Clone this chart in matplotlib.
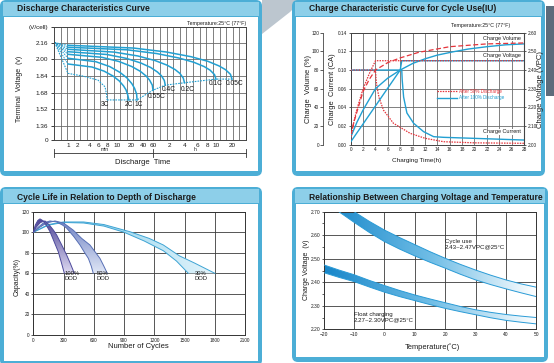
import numpy as np
import matplotlib
matplotlib.use("Agg")
import matplotlib.pyplot as plt
from matplotlib.patches import FancyBboxPatch, Rectangle, Polygon
from matplotlib.colors import LinearSegmentedColormap
from matplotlib.lines import Line2D
from matplotlib.transforms import blended_transform_factory

plt.rcParams["font.family"] = ["Liberation Sans", "DejaVu Sans"]

W, H = 554, 363
FRAME, TITLE_BG = "#4caed6", "#8dcfe9"
CURVE, RED = "#22a0d2", "#e5343b"
GRID, INK = "#6a6a6a", "#1b1b1b"

# ---------------- data ----------------
# Discharge curves: time (minutes) vs terminal voltage (V/cell)
dis_ticks = [1, 2, 4, 6, 8, 10, 20, 40, 60, 120, 240, 360, 480, 600, 1200]
dis_tick_labels = ["1", "2", "4", "6", "8", "10", "20", "40", "60",
                   "2", "4", "6", "8", "10", "20"]
volt_ticks = [0, 1.36, 1.52, 1.68, 1.84, 2.00, 2.16, 2.31]
volt_tick_labels = ["0", "1.36", "1.52", "1.68", "1.84", "2.00", "2.16", "(V/cell)"]

rates = ["0.05C", "0.1C", "0.2C", "0.4C", "0.55C", "1C", "2C"]
t_005 = [1, 23, 107, 294, 490, 680, 903, 1120, 1200]
v_005 = [2.135, 2.108, 2.070, 2.025, 1.981, 1.937, 1.901, 1.856, 1.81]
t_01 = [1, 16.6, 70.8, 188, 322, 441, 518, 578, 600]
v_01 = [2.116, 2.091, 2.055, 2.012, 1.971, 1.930, 1.896, 1.853, 1.81]
t_02 = [1, 9.4, 29.3, 66.5, 110, 158, 195, 227, 240]
v_02 = [2.096, 2.069, 2.032, 1.987, 1.944, 1.901, 1.865, 1.820, 1.775]
t_04 = [1, 8, 15.9, 34.8, 54.5, 72.8, 86.5, 98, 102]
v_04 = [2.073, 2.046, 2.009, 1.964, 1.921, 1.878, 1.842, 1.797, 1.752]
t_055 = [1, 6.8, 11, 20.8, 33.4, 44.9, 51.9, 58.3, 60]
v_055 = [2.048, 2.019, 1.979, 1.931, 1.885, 1.839, 1.800, 1.752, 1.704]
t_1c = [1, 5.4, 8.5, 11.6, 16.4, 20.9, 24.3, 27.3, 28]
v_1c = [2.010, 1.977, 1.930, 1.874, 1.821, 1.767, 1.722, 1.666, 1.61]
t_2c = [1, 4.5, 7.3, 9.2, 11.2, 13.8, 15.6, 17, 18]
v_2c = [1.955, 1.926, 1.886, 1.838, 1.792, 1.745, 1.707, 1.659, 1.61]
t_3c = [1, 2.8, 6, 7.5, 7.9, 8]
v_3c = [1.865, 1.839, 1.80, 1.736, 1.66, 1.61]
t_cut = [8, 18, 28, 60, 102, 240, 600, 1200]
v_cut = [1.61, 1.61, 1.61, 1.704, 1.752, 1.775, 1.81, 1.81]
t_start, v_start = 0.27, 2.16

# Charge characteristics: hours vs current (CA), volume (%), voltage (V/cell)
cur_ticks = [0, 0.02, 0.04, 0.06, 0.10, 0.12, 0.14]
cur_tick_labels = ["0.00", "0.02", "0.04", "0.06", "0.10", "0.12", "0.14"]
t50_cur = [0, 4, 4.1, 4.24, 4.6, 5.3, 6.9, 9.6, 12, 15, 20, 28]
i50_cur = [0.10, 0.10, 0.08, 0.064, 0.05, 0.037, 0.023, 0.0122, 0.0069,
           0.0032, 0.002, 0.0015]
t100_cur = [0, 8.25, 8.32, 8.55, 9.08, 10.16, 11.77, 13.4, 15, 20, 28]
i100_cur = [0.10, 0.10, 0.079, 0.051, 0.034, 0.023, 0.014, 0.0086, 0.0079,
            0.0068, 0.005]
t50_vol = [0, 0.5, 1, 2, 3, 4, 6, 8, 11, 16, 22, 28]
vol50 = [10, 24, 35, 57, 70, 80, 88, 93, 99, 105, 108, 109]
t100_vol = [0, 8, 10, 12, 14, 16.6, 19, 22, 25, 28]
vol100 = [3, 80, 87, 92, 96, 99.6, 102.5, 105, 107, 108]
t50_u = [0, 0.5, 1, 2, 3, 4, 28]
u50 = [2.03, 2.12, 2.19, 2.30, 2.38, 2.45, 2.45]
t100_u = [0, 1, 2, 4, 6, 8, 8.25, 28]
u100 = [2.04, 2.12, 2.186, 2.30, 2.357, 2.40, 2.45, 2.45]

# Cycle life: cycles vs capacity (%), inner / outer edge of each band
c100_in_x = [0, 20, 45, 66, 100, 140, 166, 210, 248, 280, 308]
c100_in_y = [100, 107, 111.5, 113, 111, 105, 100.5, 90, 81, 70, 60]
c100_out_x = [0, 30, 70, 116, 160, 200, 232, 280, 331, 370, 407]
c100_out_y = [100, 105, 109.5, 111, 107, 102, 97.3, 88, 77.8, 69, 60]
c50_in_x = [0, 50, 100, 166, 230, 290, 331, 400, 463, 510, 546, 575, 595]
c50_in_y = [100, 105, 109, 111, 110, 107, 104, 96, 87.6, 80, 74.6, 67, 60]
c50_out_x = [0, 60, 130, 215, 300, 397, 480, 562, 620, 661, 700, 734]
c50_out_y = [100, 104.5, 109, 111, 109, 102, 94, 87.6, 80, 74.6, 67, 60]
c30_in_x = [0, 150, 300, 500, 700, 900, 1100, 1290, 1420, 1538]
c30_in_y = [100, 107, 109.5, 109, 106, 100, 91.5, 82, 72, 60]
c30_out_x = [0, 150, 300, 500, 700, 959, 1150, 1290, 1450, 1600, 1802]
c30_out_y = [100, 107.5, 110, 110, 107.5, 100.5, 94, 87.6, 77, 70, 60]

# Charging voltage vs temperature (deg C)
temp_cyc = [-15, -10, -5, 0, 5, 10, 15, 20, 25, 30, 35, 40, 45, 50]
cyc_hi = [2.745, 2.700, 2.659, 2.622, 2.590, 2.560, 2.530, 2.502, 2.476,
          2.452, 2.430, 2.410, 2.393, 2.379]
cyc_lo = [2.700, 2.655, 2.612, 2.573, 2.541, 2.512, 2.485, 2.460, 2.434,
          2.410, 2.390, 2.372, 2.355, 2.339]
temp_flt = [-20, -15, -10, -5, 0, 5, 10, 15, 20, 25, 30, 35, 40, 45, 50]
flt_hi = [2.474, 2.452, 2.432, 2.408, 2.386, 2.365, 2.346, 2.329, 2.313,
          2.297, 2.283, 2.272, 2.263, 2.256, 2.250]
flt_lo = [2.441, 2.421, 2.403, 2.380, 2.358, 2.339, 2.322, 2.305, 2.289,
          2.275, 2.262, 2.249, 2.238, 2.230, 2.223]

# ---------------- helpers ----------------
fig = plt.figure(figsize=(W / 100, H / 100), dpi=100)


def axes_px(x0, y0, x1, y1):
    return fig.add_axes([x0 / W, 1 - y1 / H, (x1 - x0) / W, (y1 - y0) / H])


def ftext(x, y, s, **kw):
    fig.text(x / W, 1 - y / H, s, **kw)


def box_style(ax, gcol, lw=0.6):
    for sp in ax.spines.values():
        sp.set_color(gcol)
        sp.set_linewidth(lw)
    ax.set_axisbelow(True)


def band(ax, xa, ya, xb, yb, colors, horizontal, extent, edge):
    xs = np.concatenate([xa, xb[::-1]])
    ys = np.concatenate([ya, yb[::-1]])
    poly = Polygon(np.column_stack([xs, ys]), closed=True, fc="none", ec="none")
    ax.add_patch(poly)
    cmap = LinearSegmentedColormap.from_list("band", colors)
    g = np.linspace(0, 1, 256)
    img = g[None, :] if horizontal else g[:, None]
    im = ax.imshow(img, cmap=cmap, extent=extent, origin="lower",
                   aspect="auto", interpolation="bilinear", zorder=2)
    im.set_clip_path(poly)
    ax.plot(xa, ya, color=edge, lw=0.7, zorder=3)
    ax.plot(xb, yb, color=edge, lw=0.7, zorder=3)


# ---------------- background frames ----------------
bg = axes_px(0, 0, W, H)
bg.set_xlim(0, W)
bg.set_ylim(H, 0)
bg.axis("off")
bg.add_patch(Polygon([(262, 0), (302, 0), (290, 12), (262, 34)],
                     fc="#bcc6cf", ec="none"))
bg.add_patch(Rectangle((546, 6), 8, 90, fc="#5d6b7b", ec="none"))
for (x0, y0, x1, y1) in [(0, 0, 262, 176), (292, 0, 545, 176),
                         (0, 187, 262, 366), (292, 187, 548, 362)]:
    bg.add_patch(FancyBboxPatch((x0, y0), x1 - x0, y1 - y0,
                                boxstyle="round,pad=0,rounding_size=6",
                                fc=FRAME, ec="none"))
    bg.add_patch(Rectangle((x0 + 3, y0 + 2), x1 - x0 - 6, 14,
                           fc=TITLE_BG, ec="none"))
    bg.add_patch(Rectangle((x0 + 4, y0 + 17), x1 - x0 - 8, y1 - y0 - 22,
                           fc="white", ec="none"))

TKW = dict(fontsize=6.15, fontweight="bold", color=INK, va="center")
ftext(17, 8.5, "Discharge Characteristics Curve", **TKW)
ftext(309, 8.5, "Charge Characteristic Curve for Cycle Use(IU)", **TKW)
ftext(17, 197, "Cycle Life in Relation to Depth of Discharge", **TKW)
ftext(309, 197, "Relationship Between Charging Voltage and Temperature", **TKW)

# ---------------- panel 1: discharge ----------------
ax1 = axes_px(54, 27, 246, 140)
lt = np.log10([0.25] + dis_ticks + [2000])
ut = np.array([0, 2.11, 3.47, 5.36, 6.65, 8.01, 9.52, 11.63, 13.52, 14.95,
               17.37, 19.71, 21.68, 23.11, 24.47, 26.89, 29.0])


def fwd_t(t):
    return np.interp(np.log10(np.clip(t, 1e-3, None)), lt, ut)


def inv_t(u):
    return 10 ** np.interp(u, ut, lt)


lv = np.array([0, 1.36, 1.52, 1.68, 1.84, 2.00, 2.16, 2.32])
uv = np.array([0.16, 1, 2, 3, 4, 5, 6, 7])


def fwd_v(v):
    return np.interp(v, lv, uv)


def inv_v(u):
    return np.interp(u, uv, lv)


ax1.set_xscale("function", functions=(fwd_t, inv_t))
ax1.set_yscale("function", functions=(fwd_v, inv_v))
ax1.set_xlim(0.25, 2000)
ax1.set_ylim(0, 2.31)
box_style(ax1, "#444444", 0.7)
ax1.set_xticks(dis_ticks, dis_tick_labels)
ax1.set_xticks(inv_t(np.arange(1, 29)), minor=True)
ax1.set_yticks(volt_ticks, volt_tick_labels)
ax1.yaxis.set_minor_locator(matplotlib.ticker.NullLocator())
ax1.tick_params(axis="x", which="both", length=0, labelsize=4.6, pad=2,
                colors=INK)
ax1.tick_params(axis="y", length=2.5, width=0.6, labelsize=4.6, pad=1.5,
                colors=INK)
ax1.grid(True, axis="x", which="minor", color=GRID, lw=0.6)
ax1.grid(True, axis="y", which="major", color=GRID, lw=0.6)

curves = [(t_005, v_005), (t_01, v_01), (t_02, v_02), (t_04, v_04),
          (t_055, v_055), (t_1c, v_1c), (t_2c, v_2c)]
for (t, v) in curves:
    ax1.plot(t, v, color=CURVE, lw=1.1)
    ax1.plot([t_start, t[0]], [v_start, v[0]], color=CURVE, lw=0.7,
             ls=(0, (1.5, 1)))
ax1.plot([t_start] + t_3c, [v_start] + v_3c, color=CURVE, lw=0.8,
         ls=(0, (1.5, 1)))
ax1.plot(t_cut, v_cut, color=CURVE, lw=0.8, ls=(0, (1.5, 1)))

LBL = dict(fontsize=4.8, color=INK, ha="center", va="center")
for s, t, v in [("3C", 7.5, 1.571), ("2C", 18, 1.571), ("1C", 31, 1.571),
                ("0.55C", 71, 1.642), ("0.4C", 120, 1.712),
                ("0.2C", 264, 1.712), ("0.1C", 600, 1.77),
                ("0.05C", 1339, 1.77)]:
    ax1.text(t, v, s, **LBL)
ax1.text(1.0, 1.035, "Temperature:25\u00b0C (77\u00b0F)", transform=ax1.transAxes,
         fontsize=3.8, ha="right", va="center", color=INK)

tr = blended_transform_factory(ax1.transData, ax1.transAxes)
yb = -0.115
ax1.plot([0.25, 2000], [yb, yb], transform=tr, clip_on=False, color="#333333",
         lw=0.6)
for t in [0.25, 60, 2000]:
    ax1.plot([t, t], [yb - 0.035, yb + 0.035], transform=tr, clip_on=False,
             color="#333333", lw=0.6)
ax1.text(7.5, -0.085, "min", transform=tr, fontsize=3.6, ha="center",
         va="center", color=INK)
ax1.text(330, -0.085, "h", transform=tr, fontsize=3.6, ha="center",
         va="center", color=INK)
ftext(143, 163, "Discharge  Time", fontsize=5.5, ha="center", va="center",
      color=INK)
ftext(20, 89, "Terminal  Voltage  (v)", fontsize=5.0, rotation=90,
      ha="center", va="center", color=INK)

# ---------------- panel 2: charge characteristic ----------------
ax2 = axes_px(350.7, 32.7, 524, 144.7)
ci = np.array(cur_ticks)
cu = np.arange(7.0)


def fwd_i(i):
    return np.interp(i, ci, cu)


def inv_i(u):
    return np.interp(u, cu, ci)


ax2.set_yscale("function", functions=(fwd_i, inv_i))
ax2.set_xlim(0, 28)
ax2.set_ylim(0, 0.14)
box_style(ax2, "#444444", 0.7)
ax2.set_xticks(range(0, 29, 2))
ax2.set_yticks(cur_ticks, cur_tick_labels)
ax2.yaxis.set_minor_locator(matplotlib.ticker.NullLocator())
ax2.tick_params(axis="x", length=0, labelsize=3.4, pad=1.5, colors=INK)
ax2.tick_params(axis="y", length=1.5, width=0.5, labelsize=3.4, pad=1,
                colors=INK)
ax2.grid(True, color=GRID, lw=0.6)

axv = ax2.twinx()
axv.set_ylim(0, 120)
axv.set_yticks(range(0, 121, 20))
axv.yaxis.set_ticks_position("left")
axv.spines["left"].set_position(("outward", 19.7))
axv.spines["left"].set_color("#444444")
axv.spines["left"].set_linewidth(0.6)
for sp in ("right", "top", "bottom"):
    axv.spines[sp].set_visible(False)
axv.tick_params(axis="y", length=2, width=0.5, labelsize=3.4, pad=1,
                colors=INK)

axu = ax2.twinx()
axu.set_ylim(2.0, 2.6)
axu.set_yticks(np.round(np.arange(2.0, 2.61, 0.1), 2))
axu.set_yticklabels([f"{v:.2f}" for v in np.arange(2.0, 2.61, 0.1)])
for sp in ("left", "top", "bottom"):
    axu.spines[sp].set_visible(False)
axu.spines["right"].set_color("#444444")
axu.tick_params(axis="y", length=1.5, width=0.5, labelsize=3.4, pad=1,
                colors=INK)

DOT = (0, (1.2, 0.9))
ax2.plot(t100_cur, i100_cur, color=CURVE, lw=1.0, zorder=3)
ax2.plot(t50_cur, i50_cur, color=RED, lw=0.9, ls=DOT, zorder=4)
axv.plot(t100_vol, vol100, color=CURVE, lw=1.0)
axv.plot(t50_vol, vol50, color=RED, lw=0.9, ls=(0, (4, 2)))
axu.plot(t100_u, u100, color=CURVE, lw=1.0)
axu.plot(t50_u, u50, color=RED, lw=0.9, ls=DOT)

BB = dict(fc="white", ec="none", pad=0.3)
for s, y in [("Charge Volume", 0.95), ("Charge Voltage", 0.80),
             ("Charge Current", 0.116)]:
    axu.text(0.983, y, s, transform=axu.transAxes, fontsize=4.0, ha="right",
             va="center", color=INK, bbox=BB, zorder=10)
axu.text(0.918, 1.06, "Temperature:25\u00b0C (77\u00b0F)", transform=axu.transAxes,
         fontsize=3.8, ha="right", va="center", color=INK)
leg = axu.legend([Line2D([], [], color=RED, lw=0.9, ls=DOT),
                  Line2D([], [], color=CURVE, lw=1.0)],
                 ["After 50% Discharge", "After 100% Discharge"],
                 loc="upper left", bbox_to_anchor=(0.5, 0.5), frameon=False,
                 fontsize=3.3, handlelength=4.3, handletextpad=0.5,
                 labelspacing=0.35, borderpad=0, borderaxespad=0)
for txt, col in zip(leg.get_texts(), [RED, CURVE]):
    txt.set_color(col)

ftext(308.7, 89, "Charge  Volume (%)", fontsize=5.4, rotation=90,
      ha="center", va="center", color=INK)
ftext(332, 89, "Charge  Current (CA)", fontsize=5.4, rotation=90,
      ha="center", va="center", color=INK)
ftext(540, 89, "Charge Voltage (VPC)", fontsize=5.6, rotation=90,
      ha="center", va="center", color=INK)
ftext(417, 161, "Charging Time(h)", fontsize=4.6, ha="center", va="center",
      color=INK)

# ---------------- panel 3: cycle life ----------------
ax3 = axes_px(33.3, 211.7, 245, 335)
band(ax3, np.array(c30_in_x), np.array(c30_in_y), np.array(c30_out_x),
     np.array(c30_out_y), ["#6cc4e6", "#e8f6fc"], True, (0, 1850, 55, 115),
     "#3ea4d4")
band(ax3, np.array(c50_in_x), np.array(c50_in_y), np.array(c50_out_x),
     np.array(c50_out_y), ["#dfe6f6", "#6d80c2"], False, (0, 760, 60, 112),
     "#5870b6")
band(ax3, np.array(c100_in_x), np.array(c100_in_y), np.array(c100_out_x),
     np.array(c100_out_y), ["#ddd9f1", "#4d4496"], False, (0, 420, 60, 113),
     "#4d4a9c")
ax3.set_xlim(0, 2100)
ax3.set_ylim(0, 120)
box_style(ax3, "#333333", 0.7)
ax3.set_xticks(range(0, 2101, 300))
ax3.set_yticks(range(0, 121, 20))
ax3.tick_params(axis="x", length=0, labelsize=3.4, pad=2, colors=INK)
ax3.tick_params(axis="y", length=1.5, width=0.5, labelsize=3.4, pad=1,
                colors=INK)
ax3.grid(True, color="#3a3a3a", lw=0.6)
for s, x in [("100%\nDOD", 307), ("50%\nDOD", 629), ("30%\nDOD", 1604)]:
    ax3.text(x, 62, s, fontsize=4.2, ha="left", va="top", color=INK,
             linespacing=1.0)
ftext(138, 346.7, "Number of Cycles", fontsize=5.5, ha="center",
      va="center", color=INK)
ftext(17, 276.7, "Capacity(%)", fontsize=5.0, rotation=90, ha="center",
      va="center", color=INK)

# ---------------- panel 4: charging voltage vs temperature ----------------
ax4 = axes_px(323.7, 211.7, 536.3, 329.3)
band(ax4, np.array(temp_cyc), np.array(cyc_lo), np.array(temp_cyc),
     np.array(cyc_hi), ["#1786c9", "#6fbde6", "#ffffff"], True,
     (-20, 50, 2.2, 2.75), "#2a9bd6")
band(ax4, np.array(temp_flt), np.array(flt_lo), np.array(temp_flt),
     np.array(flt_hi), ["#1786c9", "#6fbde6", "#ffffff"], True,
     (-20, 50, 2.2, 2.75), "#2a9bd6")
ax4.set_xlim(-20, 50)
ax4.set_ylim(2.2, 2.7)
box_style(ax4, "#333333", 0.7)
ax4.set_xticks(range(-20, 51, 10))
ax4.set_yticks(np.round(np.arange(2.2, 2.71, 0.1), 2))
ax4.set_yticklabels([f"{v:.2f}" for v in np.arange(2.2, 2.71, 0.1)])
ax4.set_yticks(np.round(np.arange(2.25, 2.7, 0.1), 2), minor=True)
ax4.tick_params(axis="x", length=0, labelsize=3.5, pad=2, colors=INK)
ax4.tick_params(axis="y", which="both", length=1.5, width=0.5,
                labelsize=3.5, pad=1, colors=INK)
ax4.grid(True, which="major", color="#3a3a3a", lw=0.6)
ax4.text(20, 2.583, "Cycle use\n2.43~2.47VPC@25\u00b0C", fontsize=4.4,
         ha="left", va="top", color=INK, linespacing=1.05)
ax4.text(-10, 2.275, "Float charging\n2.27~2.30VPC@25\u00b0C", fontsize=4.4,
         ha="left", va="top", color=INK, linespacing=1.05)
ftext(432, 346.7, "Temperature(\u02daC)", fontsize=5.4, ha="center",
      va="center", color=INK)
ftext(306.3, 270, "Charge Voltage  (v)", fontsize=5.0, rotation=90,
      ha="center", va="center", color=INK)

fig.savefig("out.png", dpi=100)
